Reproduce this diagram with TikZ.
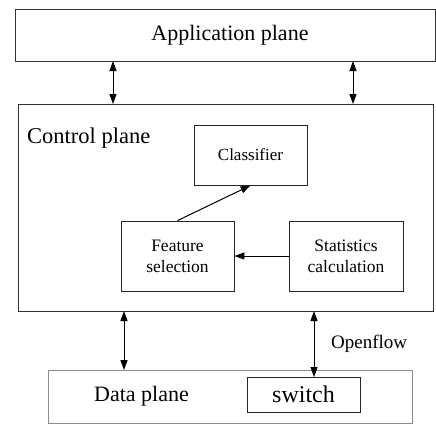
\documentclass[tikz,border=0pt]{standalone}
\usepackage{fontspec}
\setmainfont{Liberation Serif}
\usetikzlibrary{arrows.meta}
\begin{document}
\begin{tikzpicture}[
  plane/.style={draw=black!80,line width=0.8pt},
  inner/.style={draw=black!85,line width=0.8pt},
  conn/.style={line width=1pt,{Triangle[length=10pt,width=7pt]}-{Triangle[length=10pt,width=7pt]}},
  flow/.style={line width=1pt,-{Triangle[length=10pt,width=7pt]}},
  lbl/.style={inner sep=0pt,anchor=center}]
\useasboundingbox (0pt,0pt) rectangle (436pt,-426pt);

% planes
\draw[plane] (15pt,-9pt) rectangle (435.5pt,-61pt);
\node[lbl,font=\fontsize{22}{26}\selectfont] (app) at (230pt,-35pt) {Application plane};
\draw[plane] (18pt,-104pt) rectangle (433pt,-311pt);
\node[lbl,font=\fontsize{22.5}{26}\selectfont,anchor=west] (ctrl) at (27pt,-138pt) {Control plane};
\draw[draw=black!45,line width=0.8pt] (48pt,-370pt) rectangle (412pt,-423pt);
\node[lbl,font=\fontsize{22}{26}\selectfont] (data) at (141.5pt,-396pt) {Data plane};

% blocks inside the control plane
\node[inner,minimum width=113pt,minimum height=60pt,inner sep=0pt,font=\fontsize{17}{20}\selectfont]
  (cls) at (250.5pt,-155pt) {Classifier};
\node[inner,minimum width=113pt,minimum height=70pt,inner sep=0pt,align=center,font=\fontsize{17.5}{21}\selectfont]
  (feat) at (177.5pt,-256pt) {Feature\\selection};
\node[inner,minimum width=114pt,minimum height=70pt,inner sep=0pt,align=center,font=\fontsize{17.5}{21}\selectfont]
  (stat) at (346pt,-256pt) {Statistics\\calculation};
\node[inner,minimum width=113pt,minimum height=35pt,inner sep=0pt,font=\fontsize{24}{28}\selectfont]
  (sw) at (303.5pt,-394.5pt) {switch};

\draw[flow] (stat.west) -- (feat.east);
\draw[flow] (feat.north) -- (cls.south);

% connectors between planes
\coordinate (a1) at (113pt,-61pt);  \coordinate (c1) at (113pt,-104pt);
\coordinate (a2) at (353pt,-61pt);  \coordinate (c2) at (353pt,-104pt);
\coordinate (c3) at (124pt,-311pt); \coordinate (d1) at (124pt,-370pt);
\coordinate (c4) at (314pt,-311pt); \coordinate (d2) at (314pt,-377pt);
\draw[conn] (a1) -- (c1);
\draw[conn] (a2) -- (c2);
\draw[conn] (c3) -- (d1);
\draw[conn] (c4) -- (d2);
\node[lbl,font=\fontsize{19}{23}\selectfont,anchor=west] (of) at (331pt,-344pt) {Openflow};
\end{tikzpicture}
\end{document}
